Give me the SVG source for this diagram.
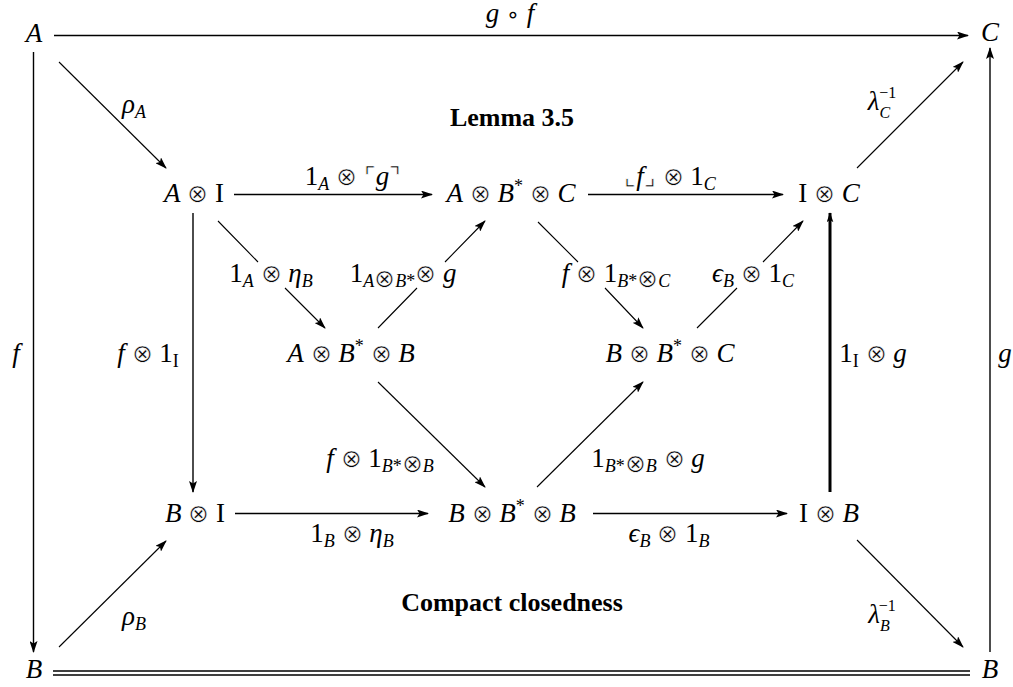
<svg xmlns="http://www.w3.org/2000/svg" width="1013" height="687" viewBox="0 0 1013 687">
<style>
text{font-family:"Liberation Serif","DejaVu Serif",serif;font-size:27px;fill:#000;text-anchor:middle}
.i{font-style:italic}
.o{font-family:"DejaVu Sans ExtraLight","DejaVu Sans",sans-serif;font-size:25px;font-weight:200;stroke:#fff;stroke-width:0.6}
.c{font-family:"DejaVu Sans",sans-serif;font-size:22px}
.s{font-size:18px}
.t{font-size:16px}
.b{font-weight:bold;font-size:26px}
.ln{fill:none;stroke:#000;stroke-width:1.4}
.th{stroke-width:1.1}
.tk{stroke-width:3}
</style>
<defs>
<marker id="ah" viewBox="0 0 12 8" refX="11" refY="4" markerWidth="12" markerHeight="8" markerUnits="userSpaceOnUse" orient="auto">
<path d="M0,0 L12,4 L0,8 L2.5,4 Z" fill="#000"/>
</marker>
<marker id="ahk" viewBox="0 0 12 8" refX="11" refY="4" markerWidth="10" markerHeight="7" markerUnits="userSpaceOnUse" orient="auto">
<path d="M0,0 L12,4 L0,8 L2.5,4 Z" fill="#000"/>
</marker>
</defs>

<g id="connectors">
<path class="ln" d="M54,35.5 H968" marker-end="url(#ah)"/>
<path class="ln" d="M33.5,52 V652" marker-end="url(#ah)"/>
<path class="ln" d="M990,652 V48" marker-end="url(#ah)"/>
<path class="ln" d="M53,671 H970 M53,675 H970" stroke-width="1.2"/>
<path class="ln th" d="M59,62 L166,168" marker-end="url(#ah)"/>
<path class="ln th" d="M857,168 L963,62" marker-end="url(#ah)"/>
<path class="ln th" d="M59,647 L166,541" marker-end="url(#ah)"/>
<path class="ln th" d="M857,540 L963,647" marker-end="url(#ah)"/>
<path class="ln" d="M234,194.5 H432" marker-end="url(#ah)"/>
<path class="ln" d="M588,194.5 H783" marker-end="url(#ah)"/>
<path class="ln" d="M235,513.5 H428" marker-end="url(#ah)"/>
<path class="ln" d="M593,513.5 H787" marker-end="url(#ah)"/>
<path class="ln" d="M193,213 V492" marker-end="url(#ah)"/>
<path class="ln tk" d="M830,492 V213" marker-end="url(#ahk)"/>
<path class="ln th" d="M218,221 L258,262 M285,288 L325,328" marker-end="url(#ah)"/>
<path class="ln th" d="M378,328 L417,288 M445,262 L485,221" marker-end="url(#ah)"/>
<path class="ln th" d="M538,222 L578,262 M605,288 L643,328" marker-end="url(#ah)"/>
<path class="ln th" d="M697,328 L737,288 M763,262 L803,221" marker-end="url(#ah)"/>
<path class="ln th" d="M378,382 L485,487" marker-end="url(#ah)"/>
<path class="ln th" d="M537,487 L643,382" marker-end="url(#ah)"/>
</g>

<g id="node-A"><text x="34" y="42" class="i">A</text></g>
<g id="node-C"><text x="990" y="41" class="i">C</text></g>
<g id="node-B-left"><text x="34" y="678" class="i">B</text></g>
<g id="node-B-right"><text x="990" y="678" class="i">B</text></g>

<g id="node-AI"><text x="194" y="202"><tspan class="i">A</tspan> <tspan class="o">⊗</tspan> I</text></g>
<g id="node-ABC"><text x="511" y="202"><tspan class="i">A</tspan> <tspan class="o">⊗</tspan> <tspan class="i">B</tspan><tspan class="s" dy="-10">*</tspan><tspan dy="10"> </tspan><tspan class="o">⊗</tspan> <tspan class="i">C</tspan></text></g>
<g id="node-IC"><text x="829" y="202">I <tspan class="o">⊗</tspan> <tspan class="i">C</tspan></text></g>
<g id="node-ABB"><text x="351" y="362"><tspan class="i">A</tspan> <tspan class="o">⊗</tspan> <tspan class="i">B</tspan><tspan class="s" dy="-10">*</tspan><tspan dy="10"> </tspan><tspan class="o">⊗</tspan> <tspan class="i">B</tspan></text></g>
<g id="node-BBC"><text x="670" y="362"><tspan class="i">B</tspan> <tspan class="o">⊗</tspan> <tspan class="i">B</tspan><tspan class="s" dy="-10">*</tspan><tspan dy="10"> </tspan><tspan class="o">⊗</tspan> <tspan class="i">C</tspan></text></g>
<g id="node-BI"><text x="195" y="522"><tspan class="i">B</tspan> <tspan class="o">⊗</tspan> I</text></g>
<g id="node-BBB"><text x="512" y="522"><tspan class="i">B</tspan> <tspan class="o">⊗</tspan> <tspan class="i">B</tspan><tspan class="s" dy="-10">*</tspan><tspan dy="10"> </tspan><tspan class="o">⊗</tspan> <tspan class="i">B</tspan></text></g>
<g id="node-IB"><text x="829" y="522">I <tspan class="o">⊗</tspan> <tspan class="i">B</tspan></text></g>

<g id="labels">
<text x="510" y="22"><tspan class="i">g</tspan> <tspan class="c">∘</tspan> <tspan class="i">f</tspan></text>
<text x="16" y="362" class="i">f</text>
<text x="1005" y="362" class="i">g</text>
<text x="134" y="113"><tspan class="i">ρ</tspan><tspan class="s i" dy="5">A</tspan></text>
<text x="134" y="625"><tspan class="i">ρ</tspan><tspan class="s i" dy="5">B</tspan></text>
<text x="882" y="110"><tspan class="i">λ</tspan><tspan class="t i" dy="8">C</tspan><tspan class="t" dx="-11" dy="-20">−1</tspan></text>
<text x="882" y="623"><tspan class="i">λ</tspan><tspan class="t i" dy="8">B</tspan><tspan class="t" dx="-11" dy="-20">−1</tspan></text>
<text x="353" y="185">1<tspan class="s i" dy="5">A</tspan><tspan dy="-5"> </tspan><tspan class="o">⊗</tspan> <tspan class="o">⌜</tspan><tspan class="i">g</tspan><tspan class="o">⌝</tspan></text>
<text x="670" y="185"><tspan class="o">⌞</tspan><tspan class="i">f</tspan><tspan class="o">⌟</tspan> <tspan class="o">⊗</tspan> 1<tspan class="s i" dy="5">C</tspan></text>
<text x="148" y="362"><tspan class="i">f</tspan> <tspan class="o">⊗</tspan> 1<tspan class="s" dy="5">I</tspan></text>
<text x="873" y="362">1<tspan class="s" dy="5">I</tspan><tspan dy="-5"> </tspan><tspan class="o">⊗</tspan> <tspan class="i">g</tspan></text>
<text x="271" y="282">1<tspan class="s i" dy="5">A</tspan><tspan dy="-5"> </tspan><tspan class="o">⊗</tspan> <tspan class="i">η</tspan><tspan class="s i" dy="5">B</tspan></text>
<text x="403" y="282">1<tspan class="s" dy="5"><tspan class="i">A</tspan><tspan class="o" font-size="15">⊗</tspan><tspan class="i">B</tspan>*</tspan><tspan class="o" dy="-5">⊗</tspan> <tspan class="i">g</tspan></text>
<text x="616" y="282"><tspan class="i">f</tspan> <tspan class="o">⊗</tspan> 1<tspan class="s" dy="5"><tspan class="i">B</tspan>*<tspan class="o" font-size="15">⊗</tspan><tspan class="i">C</tspan></tspan></text>
<text x="753" y="282"><tspan class="i">ϵ</tspan><tspan class="s i" dy="5">B</tspan><tspan dy="-5"> </tspan><tspan class="o">⊗</tspan> 1<tspan class="s i" dy="5">C</tspan></text>
<text x="380" y="467"><tspan class="i">f</tspan> <tspan class="o">⊗</tspan> 1<tspan class="s" dy="5"><tspan class="i">B</tspan>*<tspan class="o" font-size="15">⊗</tspan><tspan class="i">B</tspan></tspan></text>
<text x="648" y="467">1<tspan class="s" dy="5"><tspan class="i">B</tspan>*<tspan class="o" font-size="15">⊗</tspan><tspan class="i">B</tspan></tspan><tspan dy="-5"> </tspan><tspan class="o">⊗</tspan> <tspan class="i">g</tspan></text>
<text x="352" y="542">1<tspan class="s i" dy="5">B</tspan><tspan dy="-5"> </tspan><tspan class="o">⊗</tspan> <tspan class="i">η</tspan><tspan class="s i" dy="5">B</tspan></text>
<text x="669" y="542"><tspan class="i">ϵ</tspan><tspan class="s i" dy="5">B</tspan><tspan dy="-5"> </tspan><tspan class="o">⊗</tspan> 1<tspan class="s i" dy="5">B</tspan></text>
<text x="512" y="126" class="b">Lemma 3.5</text>
<text x="512" y="611" class="b">Compact closedness</text>
</g>
</svg>
